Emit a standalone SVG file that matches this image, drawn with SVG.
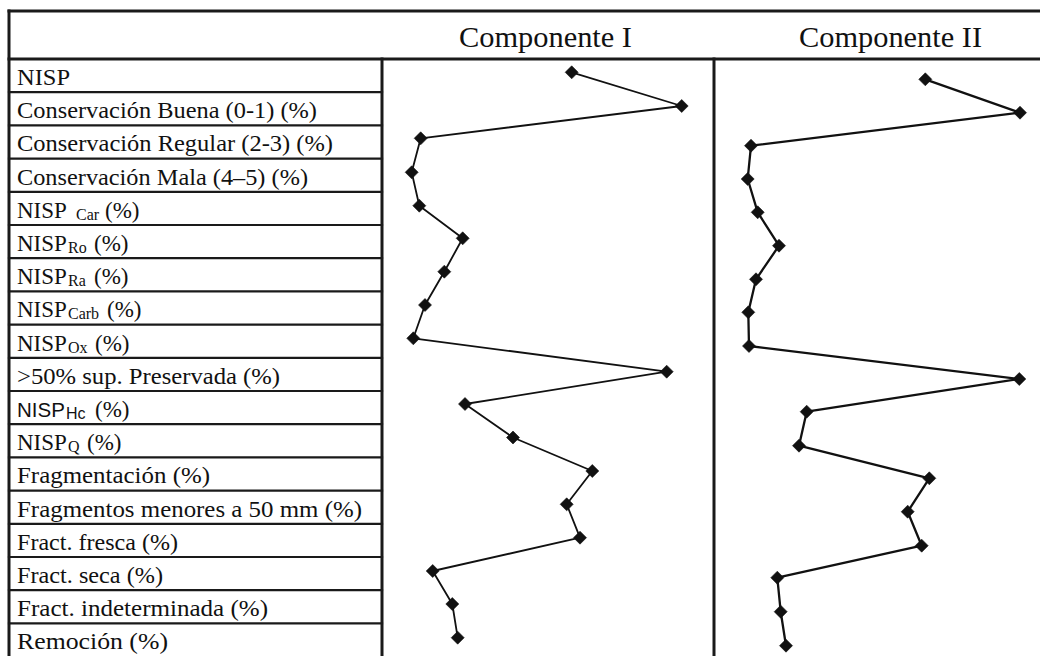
<svg xmlns="http://www.w3.org/2000/svg" width="1040" height="656" viewBox="0 0 1040 656">
<style>
.ln{stroke:#1a1a1a;fill:none;stroke-linecap:square}
.thick{stroke-width:3}
.row{stroke-width:2.2}
.lbl{font-family:"Liberation Serif","DejaVu Serif",serif;font-size:23px;fill:#111}
.hdr{font-family:"Liberation Serif","DejaVu Serif",serif;font-size:30px;fill:#111}
.sub{font-size:16px}
.sans{font-family:"Liberation Sans",Arial,sans-serif;font-size:20.5px}
.sanssub{font-family:"Liberation Sans",Arial,sans-serif;font-size:16px}
.c1{stroke:#111;stroke-width:1.8;fill:none;stroke-linejoin:round}
.c2{stroke:#111;stroke-width:2.3;fill:none;stroke-linejoin:round}
</style>
<defs>
<marker id="dia" markerUnits="userSpaceOnUse" markerWidth="14" markerHeight="14" refX="7" refY="7" orient="0" overflow="visible">
<path d="M7 0.5 L13.5 7 L7 13.5 L0.5 7 Z" fill="#111" stroke="#111" stroke-width="0.6" stroke-linejoin="round"/>
</marker>
</defs>
<rect width="1040" height="656" fill="#fff"/>
<g id="frame">
<line class="ln thick" x1="9" y1="11" x2="1040" y2="11"/>
<line class="ln thick" x1="9" y1="11" x2="9" y2="656"/>
<line class="ln thick" x1="9" y1="59" x2="1040" y2="59"/>
<line class="ln thick" x1="382" y1="59" x2="382" y2="656"/>
<line class="ln thick" x1="714" y1="59" x2="714" y2="656"/>
<g class="ln row">
<line x1="9" y1="92.2" x2="382" y2="92.2"/>
<line x1="9" y1="125.4" x2="382" y2="125.4"/>
<line x1="9" y1="158.6" x2="382" y2="158.6"/>
<line x1="9" y1="191.8" x2="382" y2="191.8"/>
<line x1="9" y1="225" x2="382" y2="225"/>
<line x1="9" y1="258.2" x2="382" y2="258.2"/>
<line x1="9" y1="291.4" x2="382" y2="291.4"/>
<line x1="9" y1="324.6" x2="382" y2="324.6"/>
<line x1="9" y1="357.8" x2="382" y2="357.8"/>
<line x1="9" y1="391" x2="382" y2="391"/>
<line x1="9" y1="424.2" x2="382" y2="424.2"/>
<line x1="9" y1="457.4" x2="382" y2="457.4"/>
<line x1="9" y1="490.6" x2="382" y2="490.6"/>
<line x1="9" y1="523.8" x2="382" y2="523.8"/>
<line x1="9" y1="557" x2="382" y2="557"/>
<line x1="9" y1="590.2" x2="382" y2="590.2"/>
<line x1="9" y1="623.4" x2="382" y2="623.4"/>
</g>
</g>
<g id="header-comp1"><text class="hdr" x="459" y="47" textLength="173" lengthAdjust="spacingAndGlyphs">Componente I</text></g>
<g id="header-comp2"><text class="hdr" x="799" y="47" textLength="183" lengthAdjust="spacingAndGlyphs">Componente II</text></g>
<g id="row-0"><text class="lbl" x="17" y="85" textLength="53" lengthAdjust="spacingAndGlyphs">NISP</text></g>
<g id="row-1"><text class="lbl" x="17" y="118.2" textLength="300" lengthAdjust="spacingAndGlyphs">Conservación Buena (0-1) (%)</text></g>
<g id="row-2"><text class="lbl" x="17" y="151.4" textLength="316" lengthAdjust="spacingAndGlyphs">Conservación Regular (2-3) (%)</text></g>
<g id="row-3"><text class="lbl" x="17" y="184.6" textLength="291" lengthAdjust="spacingAndGlyphs">Conservación Mala (4–5) (%)</text></g>
<g id="row-4"><text class="lbl" x="17" y="217.8">NISP<tspan class="sub" x="76" dy="2">Car</tspan><tspan x="105" dy="-2">(%)</tspan></text></g>
<g id="row-5"><text class="lbl" x="17" y="251">NISP<tspan class="sub" x="68" dy="2">Ro</tspan><tspan x="94" dy="-2">(%)</tspan></text></g>
<g id="row-6"><text class="lbl" x="17" y="284.2">NISP<tspan class="sub" x="68" dy="2">Ra</tspan><tspan x="94" dy="-2">(%)</tspan></text></g>
<g id="row-7"><text class="lbl" x="17" y="317.4">NISP<tspan class="sub" x="68" dy="2">Carb</tspan><tspan x="107" dy="-2">(%)</tspan></text></g>
<g id="row-8"><text class="lbl" x="17" y="350.6">NISP<tspan class="sub" x="68" dy="2">Ox</tspan><tspan x="95" dy="-2">(%)</tspan></text></g>
<g id="row-9"><text class="lbl" x="17" y="383.8" textLength="263" lengthAdjust="spacingAndGlyphs">&gt;50% sup. Preservada (%)</text></g>
<g id="row-10"><text class="lbl" x="17" y="417"><tspan class="sans">NISP</tspan><tspan class="sanssub" x="66" dy="2">Hc</tspan><tspan x="95" dy="-2">(%)</tspan></text></g>
<g id="row-11"><text class="lbl" x="17" y="450.2">NISP<tspan class="sub" x="68" dy="2">Q</tspan><tspan x="87" dy="-2">(%)</tspan></text></g>
<g id="row-12"><text class="lbl" x="17" y="483.4" textLength="193" lengthAdjust="spacingAndGlyphs">Fragmentación (%)</text></g>
<g id="row-13"><text class="lbl" x="17" y="516.6" textLength="345" lengthAdjust="spacingAndGlyphs">Fragmentos menores a 50 mm (%)</text></g>
<g id="row-14"><text class="lbl" x="17" y="549.8" textLength="161" lengthAdjust="spacingAndGlyphs">Fract. fresca (%)</text></g>
<g id="row-15"><text class="lbl" x="17" y="583" textLength="146" lengthAdjust="spacingAndGlyphs">Fract. seca (%)</text></g>
<g id="row-16"><text class="lbl" x="17" y="616.2" textLength="251" lengthAdjust="spacingAndGlyphs">Fract. indeterminada (%)</text></g>
<g id="row-17"><text class="lbl" x="17" y="649.4" textLength="151" lengthAdjust="spacingAndGlyphs">Remoción (%)</text></g>
<g id="connectors">
<polyline id="series-comp1" class="c1" marker-start="url(#dia)" marker-mid="url(#dia)" marker-end="url(#dia)" points="571.7,72.3 681.7,106 420.7,138.3 411.7,172.3 419.3,205.7 462.7,238.3 444.3,271.7 425,305 413.3,338.3 666.7,371.7 465,404 513,437.5 592.3,471 566.7,504.3 580,537.7 432.7,571 452.3,604 457.7,637.7"/>
<polyline id="series-comp2" class="c2" marker-start="url(#dia)" marker-mid="url(#dia)" marker-end="url(#dia)" points="925.3,79.3 1020,112.7 751,145.7 747.7,179 757.7,212.3 779,245.7 756,279.3 748.3,312.3 749,346 1019.3,379 806.7,411.7 799,445.7 929.3,478.3 907.7,511.7 921.7,545.7 777.3,577.7 780.7,611.7 786,645.7"/>
</g>
</svg>
